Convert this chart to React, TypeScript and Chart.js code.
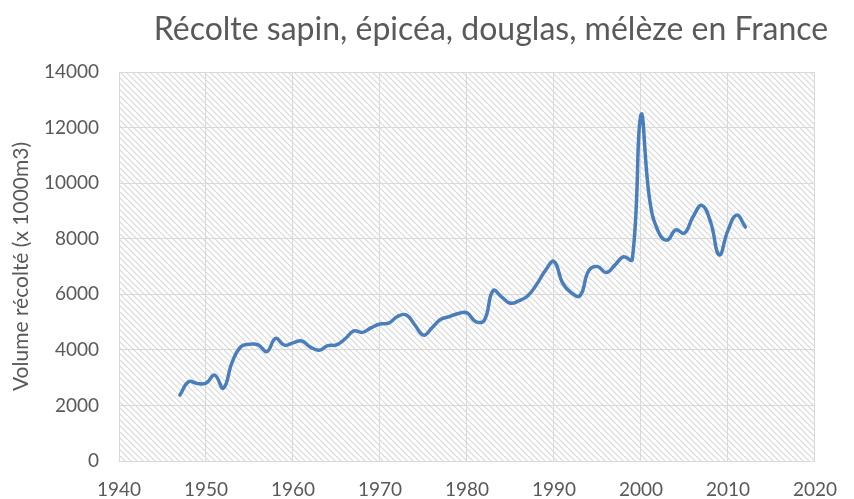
import React, { useEffect, useRef } from "react";
import { Chart, registerables } from "chart.js";

Chart.register(...registerables);

const TITLE = "Récolte sapin, épicéa, douglas, mélèze en France";
const Y_TITLE = "Volume récolté (x 1000m3)";

const years: number[] = [
  1947, 1948, 1949, 1950, 1951, 1952, 1953, 1954, 1955, 1956,
  1957, 1958, 1959, 1960, 1961, 1962, 1963, 1964, 1965, 1966,
  1967, 1968, 1969, 1970, 1971, 1972, 1973, 1974, 1975, 1976,
  1977, 1978, 1979, 1980, 1981, 1982, 1983, 1984, 1985, 1986,
  1987, 1988, 1989, 1990, 1991, 1992, 1993, 1994, 1995, 1996,
  1997, 1998, 1999, 2000, 2001, 2002, 2003, 2004, 2005, 2006,
  2007, 2008, 2009, 2010, 2011, 2012,
];

const volumes: number[] = [
  2370, 2850, 2790, 2800, 3090, 2620, 3550, 4110, 4200, 4180,
  3940, 4410, 4170, 4250, 4320, 4100, 3990, 4150, 4180, 4400,
  4680, 4630, 4800, 4930, 4960, 5200, 5260, 4900, 4530, 4800,
  5100, 5200, 5310, 5330, 5020, 5070, 6130, 5900, 5680, 5770,
  5950, 6350, 6850, 7180, 6400, 6050, 5950, 6850, 7000, 6780,
  7050, 7350, 7250, 12450, 9400, 8250, 7950, 8320, 8200, 8800,
  9200, 8600, 7420, 8300, 8850, 8420,
];

const X_MIN = 1940;
const X_MAX = 2020;
const X_STEP = 10;
const Y_MIN = 0;
const Y_MAX = 14000;
const Y_STEP = 2000;

const FONT = "Lato, 'Open Sans', sans-serif";
const TEXT_COLOR = "#595959";
const GRID_COLOR = "#d9d9d9";
const LINE_COLOR = "#4A7EBB";

function makePattern(ctx: CanvasRenderingContext2D): CanvasPattern | string {
  const size = 6;
  const c = document.createElement("canvas");
  c.width = size;
  c.height = size;
  const p = c.getContext("2d");
  if (!p) return "#ffffff";
  p.fillStyle = "#ffffff";
  p.fillRect(0, 0, size, size);
  p.strokeStyle = "#d8d8d8";
  p.lineWidth = 1.2;
  p.beginPath();
  p.moveTo(-1, -1);
  p.lineTo(size + 1, size + 1);
  p.moveTo(-1, size - 1);
  p.lineTo(1, size + 1);
  p.moveTo(size - 1, -1);
  p.lineTo(size + 1, 1);
  p.stroke();
  return ctx.createPattern(c, "repeat") || "#ffffff";
}

const hatchPlugin = {
  id: "hatchBg",
  beforeDraw(chart: any) {
    const { ctx, chartArea } = chart;
    if (!chartArea) return;
    ctx.save();
    ctx.fillStyle = makePattern(ctx);
    ctx.fillRect(
      chartArea.left,
      chartArea.top,
      chartArea.right - chartArea.left,
      chartArea.bottom - chartArea.top
    );
    ctx.restore();
  },
};

const titlePlugin = {
  id: "customTitle",
  afterDraw(chart: any) {
    const { ctx } = chart;
    ctx.save();
    ctx.font = `32px ${FONT}`;
    ctx.fillStyle = TEXT_COLOR;
    ctx.textAlign = "center";
    ctx.textBaseline = "alphabetic";
    ctx.fillText(TITLE, 491, 40);
    ctx.restore();
  },
};

export default function App() {
  const ref = useRef<HTMLCanvasElement | null>(null);

  useEffect(() => {
    if (!ref.current) return;
    const data = years.map((y, i) => ({ x: y, y: volumes[i] }));
    const chart = new Chart(ref.current, {
      type: "line",
      data: {
        datasets: [
          {
            data,
            borderColor: LINE_COLOR,
            borderWidth: 3.5,
            pointRadius: 0,
            tension: 0.45,
            fill: false,
            borderCapStyle: "round",
            borderJoinStyle: "round",
          },
        ],
      },
      options: {
        animation: false,
        responsive: false,
        events: [],
        layout: { padding: { top: 72, right: 25, left: 0, bottom: 0 } },
        plugins: {
          legend: { display: false },
          tooltip: { enabled: false },
          title: { display: false },
        },
        scales: {
          x: {
            type: "linear",
            min: X_MIN,
            max: X_MAX,
            ticks: {
              stepSize: X_STEP,
              color: TEXT_COLOR,
              font: { family: FONT, size: 19 },
              padding: 17,
              maxRotation: 0,
              callback: (v: any) => String(v),
            },
            grid: { color: GRID_COLOR, drawTicks: false, lineWidth: 1 },
            border: { color: GRID_COLOR },
            afterFit: (scale: any) => {
              scale.height = 38;
            },
          },
          y: {
            min: Y_MIN,
            max: Y_MAX,
            ticks: {
              stepSize: Y_STEP,
              color: TEXT_COLOR,
              font: { family: FONT, size: 19 },
              padding: 20,
              callback: (v: any) => String(v),
            },
            title: {
              display: true,
              text: Y_TITLE,
              color: TEXT_COLOR,
              font: { family: FONT, size: 21 },
              padding: { top: 9, bottom: 0 },
            },
            grid: { color: GRID_COLOR, drawTicks: false, lineWidth: 1 },
            border: { color: GRID_COLOR },
            afterFit: (scale: any) => {
              scale.width = 119;
            },
          },
        },
      },
      plugins: [hatchPlugin, titlePlugin],
    });
    return () => chart.destroy();
  }, []);

  return (
    <div style={{ position: "fixed", left: 0, top: 0, width: 854, height: 499, background: "#fff" }}>
      <canvas ref={ref} width={854} height={499} style={{ width: 854, height: 499, display: "block" }} />
    </div>
  );
}
